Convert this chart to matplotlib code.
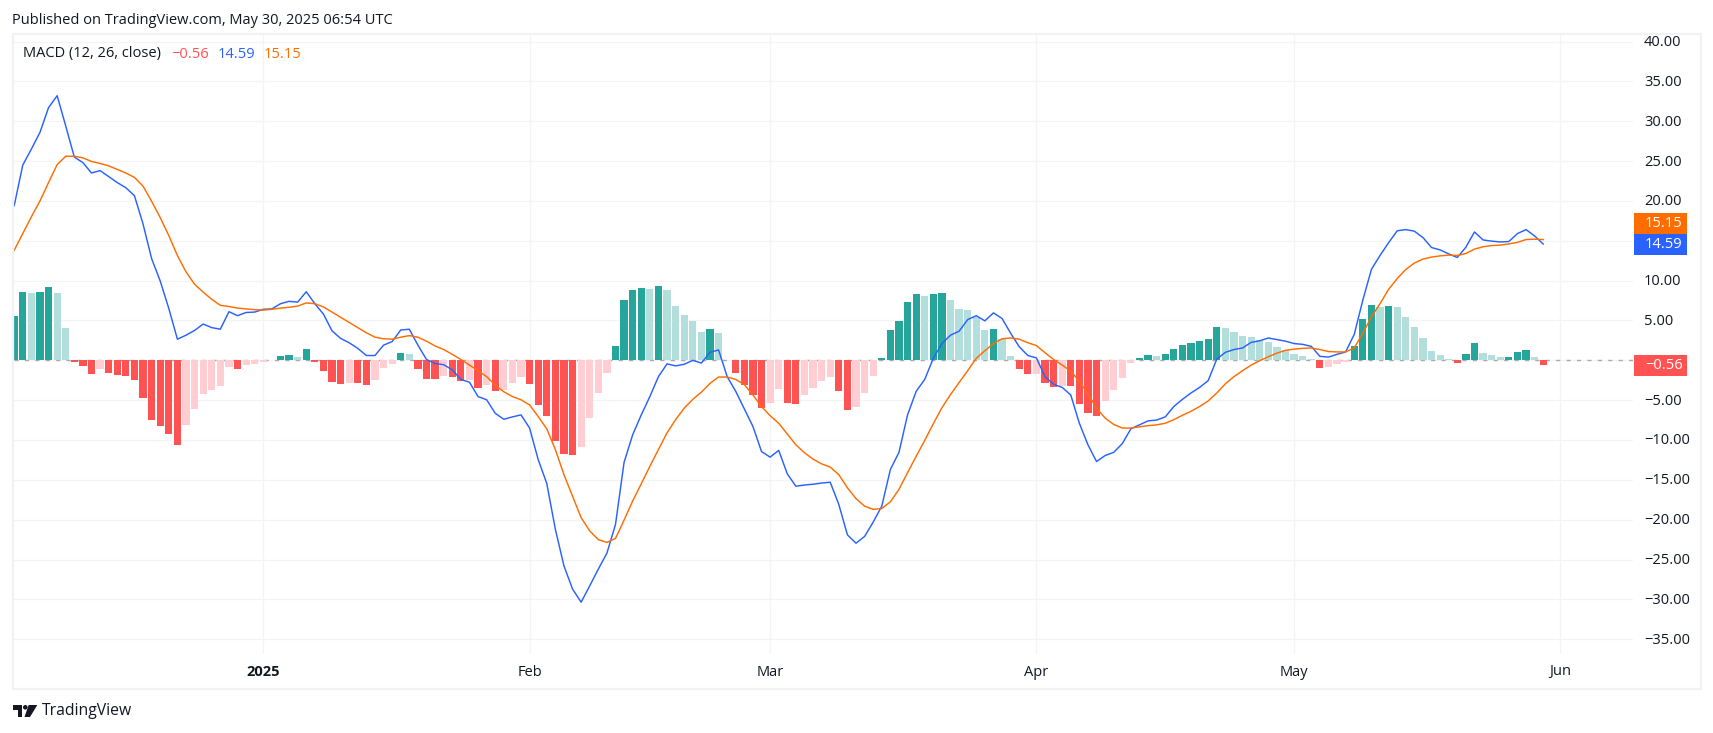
import matplotlib
matplotlib.use("Agg")
import matplotlib.pyplot as plt
import matplotlib.dates as mdates
from matplotlib.patches import Rectangle, Polygon
import numpy as np
import pandas as pd

W, H = 1713, 733
FONT = ["Open Sans", "DejaVu Sans"]
plt.rcParams["font.family"] = FONT

start_date = "2024-12-03"
end_date = "2025-05-30"

histogram = [
    # Dec 3 - Dec 31
    5.55, 8.55, 8.4, 8.55, 9.15, 8.4, 4.05, -0.2, -0.7, -1.7, -1.1, -1.6, -1.85, -1.95, -2.45,
    -4.7, -7.45, -8.2, -9.3, -10.6, -8.1, -6.1, -4.2, -3.7, -3.2, -0.85, -1.1, -0.6, -0.45,
    # Jan
    -0.2, 0.08, 0.55, 0.65, 0.4, 1.4, -0.2, -1.35, -2.7, -2.95, -2.85, -2.9, -3.1, -2.45, -0.95,
    -0.45, 0.9, 0.8, -1.1, -2.35, -2.4, -1.95, -2.1, -2.6, -2.45, -3.45, -3.1, -3.85, -3.7, -2.85, -2.1,
    # Feb
    -2.95, -5.6, -6.95, -10.1, -11.7, -11.85, -10.85, -7.2, -4.1, -1.6, 1.8, 7.55, 8.8, 9.05, 9.0,
    9.3, 8.8, 6.8, 5.65, 4.9, 3.55, 3.9, 3.4, 0.05, -1.6, -3.1, -4.35, -5.95,
    # Mar
    -5.35, -3.6, -5.35, -5.45, -4.35, -3.45, -2.6, -2.1, -3.85, -6.2, -5.85, -4.1, -1.95, 0.3, 3.8,
    4.9, 7.3, 8.3, 8.05, 8.3, 8.4, 7.55, 6.4, 6.3, 5.4, 3.8, 3.9, 2.65, 0.55, -1.1, -1.7,
    # Apr
    -1.7, -2.85, -3.35, -3.2, -3.25, -5.45, -6.6, -6.95, -5.1, -3.7, -2.2, -0.3, 0.3, 0.65, 0.55,
    0.8, 1.4, 1.9, 2.15, 2.4, 2.65, 4.15, 4.05, 3.55, 3.05, 2.9, 2.55, 2.3, 1.65, 1.3,
    # May
    0.8, 0.55, 0.15, -0.95, -0.85, -0.45, -0.2, 1.8, 5.15, 6.9, 6.65, 6.8, 6.65, 5.4, 4.15,
    2.8, 1.15, 0.65, 0.15, -0.35, 0.8, 2.15, 0.9, 0.65, 0.4, 0.4, 1.05, 1.3, 0.4, -0.56,
]

macd_line = [
    # Dec 3 - Dec 31
    19.4, 24.5, 26.5, 28.6, 31.7, 33.2, 29.4, 25.5, 24.8, 23.5, 23.8, 23.05, 22.3, 21.65, 20.65,
    17.1, 12.75, 9.95, 6.5, 2.65, 3.15, 3.75, 4.55, 4.1, 3.9, 6.1, 5.6, 6.0, 6.05,
    # Jan
    6.4, 6.45, 7.1, 7.4, 7.3, 8.6, 7.1, 5.8, 3.7, 2.75, 2.2, 1.5, 0.6, 0.6, 1.9,
    2.35, 3.8, 3.9, 1.9, 0.1, -0.4, -0.55, -1.2, -2.4, -2.75, -4.55, -4.95, -6.65, -7.4, -7.1, -6.85,
    # Feb
    -8.5, -12.45, -15.45, -21.2, -25.8, -28.7, -30.35, -28.3, -26.2, -24.2, -20.6, -12.8, -9.35, -6.85, -4.55,
    -2.05, -0.45, -0.7, -0.5, 0.0, -0.35, 1.0, 1.3, -2.05, -3.9, -6.1, -8.3, -11.45,
    # Mar
    -12.15, -11.3, -14.25, -15.8, -15.65, -15.55, -15.4, -15.3, -18.1, -21.9, -22.95, -22.1, -20.3, -18.3, -13.7,
    -11.55, -6.85, -3.9, -2.4, 0.25, 2.1, 3.15, 3.65, 5.1, 5.6, 4.95, 5.95, 5.25, 3.4, 1.7, 0.6,
    # Apr
    0.3, -2.05, -3.0, -3.4, -4.35, -7.9, -10.6, -12.7, -11.95, -11.55, -10.45, -8.6, -8.1, -7.6, -7.5,
    -7.1, -5.8, -4.9, -4.1, -3.4, -2.55, 0.15, 1.0, 1.35, 1.55, 2.25, 2.45, 2.8, 2.6, 2.4,
    # May
    2.1, 2.0, 1.75, 0.5, 0.4, 0.75, 1.05, 3.25, 7.55, 11.4, 13.15, 14.75, 16.25, 16.4, 16.2,
    15.4, 14.15, 13.85, 13.35, 12.9, 14.2, 16.1, 15.1, 14.95, 14.85, 14.9, 15.9, 16.4, 15.6, 14.59,
]

signal_line = [
    # Dec 3 - Dec 31
    13.8, 15.9, 18.0, 20.0, 22.3, 24.55, 25.6, 25.6, 25.4, 24.95, 24.7, 24.4, 23.95, 23.5, 22.95,
    21.85, 19.95, 17.9, 15.65, 13.15, 11.1, 9.55, 8.55, 7.65, 6.9, 6.75, 6.55, 6.45, 6.35,
    # Jan
    6.3, 6.4, 6.55, 6.65, 6.8, 7.2, 7.1, 6.7, 6.05, 5.4, 4.75, 4.1, 3.45, 2.9, 2.7,
    2.65, 2.9, 3.1, 2.9, 2.4, 1.8, 1.35, 0.75, 0.1, -0.6, -1.3, -2.05, -3.1, -3.95, -4.55, -4.95,
    # Feb
    -5.6, -7.05, -8.6, -11.2, -14.35, -17.05, -19.75, -21.4, -22.5, -22.85, -22.35, -20.05, -17.65, -15.5, -13.3,
    -11.2, -9.1, -7.45, -6.0, -4.9, -4.0, -2.9, -2.1, -2.1, -2.4, -3.05, -4.35, -5.8,
    # Mar
    -6.95, -7.9, -9.25, -10.6, -11.6, -12.4, -13.0, -13.4, -14.35, -16.0, -17.35, -18.3, -18.7, -18.6, -17.75,
    -16.2, -14.1, -12.05, -10.05, -7.95, -5.95, -4.3, -2.8, -1.3, 0.25, 1.2, 2.1, 2.7, 2.8, 2.65, 2.2,
    # Apr
    1.85, 0.95, 0.1, -0.6, -1.35, -2.65, -4.2, -6.0, -7.25, -8.05, -8.5, -8.5, -8.35, -8.2, -8.1,
    -7.9, -7.45, -6.9, -6.4, -5.8, -5.1, -4.1, -2.95, -2.05, -1.3, -0.6, -0.05, 0.45, 0.9, 1.25,
    # May
    1.4, 1.5, 1.55, 1.35, 1.1, 1.05, 1.05, 1.55, 3.4, 5.45, 7.1, 8.9, 10.25, 11.4, 12.2,
    12.7, 12.95, 13.1, 13.2, 13.15, 13.4, 13.95, 14.25, 14.4, 14.45, 14.6, 14.8, 15.15, 15.2, 15.15,
]

y_ticks = [40, 35, 30, 25, 20, 15, 10, 5, 0, -5, -10, -15, -20, -25, -30, -35]
hidden_ticks = [15, 0]
x_tick_dates = ["2025-01-01", "2025-02-01", "2025-03-01", "2025-04-01", "2025-05-01", "2025-06-01"]
x_tick_labels = ["2025", "Feb", "Mar", "Apr", "May", "Jun"]

GRID = "#f3f4f5"
TEXT = "#131722"
TEAL, TEAL_L, RED, RED_L = "#26a69a", "#b2dfdb", "#ff5252", "#ffcdd2"
BLUE, ORANGE = "#2962ff", "#ff6d00"
FS = 10.5

dates = pd.date_range(start_date, end_date)
hist = np.array(histogram)
prev = np.r_[hist[0], hist[:-1]]
colors = [
    (TEAL if h >= p else TEAL_L) if h >= 0 else (RED if h < p else RED_L)
    for h, p in zip(hist, prev)
]

fig = plt.figure(figsize=(W / 100, H / 100), dpi=100, facecolor="white")
fx = lambda p: p / W
fy = lambda p: 1 - p / H

L, R, T, B = 14.0, 1633.0, 35.0, 654.0
ax = fig.add_axes([fx(L), fy(B), fx(R - L), fy(T) - fy(B)])
ax.set_facecolor("white")
for s in ax.spines.values():
    s.set_visible(False)

# scale: Jan 1 at px 263.3, 8.59 px per day; zero at px 360.3, 7.97 px per unit
jan1 = mdates.date2num(pd.Timestamp("2025-01-01"))
ax.set_xlim(jan1 - (263.3 - L) / 8.59, jan1 + (R - 263.3) / 8.59)
ax.set_ylim((360.3 - B) / 7.97, (360.3 - T) / 7.97)

tick_nums = mdates.date2num(pd.to_datetime(x_tick_dates))
ax.set_xticks(tick_nums)
ax.set_xticklabels([])
ax.set_yticks(y_ticks)
ax.set_yticklabels([])
ax.tick_params(length=0)
ax.grid(True, color=GRID, lw=0.9)
ax.set_axisbelow(True)

ax.axhline(0, color="#a8abb3", lw=1.0, dashes=(3, 4.5), zorder=1)
ax.bar(dates, hist, width=0.84, color=colors, linewidth=0, zorder=2)
ax.plot(dates, macd_line, color=BLUE, lw=1.05, zorder=3, solid_joinstyle="round")
ax.plot(dates, signal_line, color=ORANGE, lw=1.05, zorder=4, solid_joinstyle="round")

# frame
fig.add_artist(Rectangle((fx(13), fy(689)), fx(1688), fy(34) - fy(689), transform=fig.transFigure,
                         fill=False, edgecolor="#f1f2f4", lw=1.6, zorder=10))

# y tick labels
for v in y_ticks:
    if v in hidden_ticks:
        continue
    label = f"{v:.2f}".replace("-", "\u2212")
    ax.annotate(label, xy=(1, v), xycoords=("axes fraction", "data"), xytext=(1644 - R, -1),
                textcoords="offset pixels", va="center", ha="left", fontsize=FS, color=TEXT,
                annotation_clip=False)

# x tick labels
for n, lab in zip(tick_nums, x_tick_labels):
    ax.annotate(lab, xy=(n, 0), xycoords=("data", "axes fraction"), xytext=(0, B - 672),
                textcoords="offset pixels", va="center", ha="center", fontsize=FS, color=TEXT,
                fontweight="bold" if lab == "2025" else "normal", annotation_clip=False)

# value tags
for top, bot, col, txt in [(213.3, 234, ORANGE, "15.15"), (234, 254.7, BLUE, "14.59"),
                           (355, 375.7, RED, "\u22120.56")]:
    fig.add_artist(Rectangle((fx(1634), fy(bot)), fx(53), fy(top) - fy(bot), transform=fig.transFigure,
                             facecolor=col, edgecolor="none", zorder=11))
    fig.text(fx(1645), fy((top + bot) / 2), txt, color="white", fontsize=FS, va="center", ha="left", zorder=12)

# header and legend
fig.text(fx(12.5), fy(20.5), "Published on TradingView.com, May 30, 2025 06:54 UTC", fontsize=FS,
         color=TEXT, va="center", ha="left")
fig.text(fx(23), fy(54), "MACD (12, 26, close)", fontsize=FS, color=TEXT, va="center", ha="left")
fig.text(fx(171), fy(54), "\u22120.56", fontsize=FS, color=RED, va="center", ha="left")
fig.text(fx(218), fy(54), "14.59", fontsize=FS, color=BLUE, va="center", ha="left")
fig.text(fx(264), fy(54), "15.15", fontsize=FS, color=ORANGE, va="center", ha="left")

# footer logo
tf = fig.transFigure
pts = lambda seq: [(fx(a), fy(b)) for a, b in seq]
fig.add_artist(Polygon(pts([(13, 705), (22, 705), (22, 717), (18, 717), (18, 709.5), (13, 709.5)]),
                       closed=True, facecolor=TEXT, edgecolor="none", transform=tf))
fig.add_artist(Polygon(pts([(28.7, 705), (37.3, 705), (30, 717), (24.5, 717)]),
                       closed=True, facecolor=TEXT, edgecolor="none", transform=tf))
theta = np.linspace(0, 2 * np.pi, 30)
fig.add_artist(Polygon(pts(zip(25.3 + 2.3 * np.cos(theta), 707.3 + 2.3 * np.sin(theta))),
                       closed=True, facecolor=TEXT, edgecolor="none", transform=tf))
fig.text(fx(42), fy(711), "TradingView", fontsize=11.3, color=TEXT, va="center", ha="left")

fig.savefig("out.png", dpi=100, facecolor="white")
